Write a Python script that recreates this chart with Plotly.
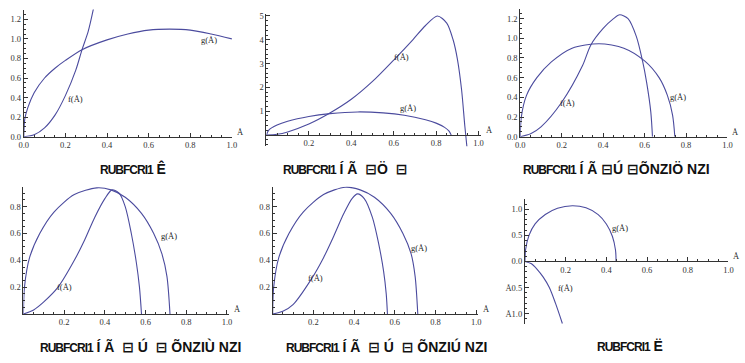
import plotly.graph_objects as go

W, H = 745, 363

# ---------------- data ----------------
# Panel 1
p1_f_x = [0, 0.05, 0.1, 0.15, 0.2, 0.25, 0.28, 0.31, 0.335]
p1_f_y = [0, 0.02, 0.09, 0.22, 0.42, 0.68, 0.89, 1.08, 1.31]
p1_g_x = [0, 0.005, 0.02, 0.05, 0.1, 0.15, 0.2, 0.28, 0.4, 0.5, 0.6, 0.7, 0.8, 0.9, 1.0]
p1_g_y = [0, 0.18, 0.3, 0.45, 0.6, 0.7, 0.78, 0.89, 0.99, 1.05, 1.09, 1.1, 1.09, 1.05, 1.0]
# Panel 2
p2_f_x = [0, 0.05, 0.1, 0.2, 0.293, 0.4, 0.5, 0.6, 0.69, 0.75, 0.806, 0.85, 0.88, 0.9, 0.92, 0.935, 0.945]
p2_f_y = [0, 0.03, 0.13, 0.46, 0.89, 1.5, 2.25, 3.15, 4.0, 4.6, 5.0, 4.7, 4.0, 3.2, 1.9, 0.4, -0.48]
p2_g_x = [0, 0.01, 0.05, 0.1, 0.2, 0.3, 0.43, 0.55, 0.65, 0.75, 0.8, 0.84, 0.86, 0.871]
p2_g_y = [0, 0.2, 0.42, 0.58, 0.78, 0.9, 0.97, 0.93, 0.83, 0.64, 0.5, 0.32, 0.17, 0]
# Panel 3
p3_f_x = [0, 0.05, 0.1, 0.2, 0.3, 0.34, 0.4, 0.45, 0.48, 0.52, 0.56, 0.59, 0.61, 0.63, 0.638]
p3_f_y = [0, 0.03, 0.1, 0.35, 0.72, 0.93, 1.1, 1.2, 1.24, 1.2, 1.02, 0.77, 0.55, 0.25, 0]
p3_g_x = [0, 0.005, 0.03, 0.08, 0.15, 0.25, 0.38, 0.5, 0.6, 0.67, 0.71, 0.735, 0.746]
p3_g_y = [0, 0.2, 0.42, 0.6, 0.76, 0.9, 0.945, 0.9, 0.77, 0.6, 0.42, 0.22, 0]
# Panel 4
p4_f_x = [0, 0.05, 0.1, 0.17, 0.25, 0.3, 0.35, 0.4, 0.435, 0.47, 0.5, 0.53, 0.555, 0.57, 0.58]
p4_f_y = [0, 0.03, 0.09, 0.2, 0.4, 0.55, 0.72, 0.86, 0.925, 0.9, 0.8, 0.6, 0.38, 0.2, 0]
p4_g_x = [0, 0.005, 0.03, 0.08, 0.15, 0.25, 0.36, 0.43, 0.5, 0.58, 0.64, 0.68, 0.705, 0.72]
p4_g_y = [0, 0.2, 0.42, 0.6, 0.76, 0.89, 0.94, 0.925, 0.87, 0.75, 0.6, 0.45, 0.28, 0]
# Panel 5
p5_f_x = [0, 0.05, 0.1, 0.19, 0.25, 0.3, 0.35, 0.39, 0.417, 0.45, 0.49, 0.52, 0.545, 0.558, 0.564]
p5_f_y = [0, 0.02, 0.07, 0.26, 0.42, 0.58, 0.75, 0.86, 0.895, 0.86, 0.72, 0.53, 0.32, 0.15, 0]
p5_g_x = [0, 0.005, 0.03, 0.08, 0.15, 0.25, 0.357, 0.43, 0.5, 0.58, 0.64, 0.68, 0.7, 0.713]
p5_g_y = [0, 0.2, 0.42, 0.6, 0.76, 0.89, 0.945, 0.925, 0.87, 0.75, 0.6, 0.45, 0.28, 0]
# Panel 6
p6_f_x = [0, 0.03, 0.06, 0.09, 0.12, 0.15, 0.184]
p6_f_y = [0, -0.04, -0.15, -0.3, -0.5, -0.8, -1.19]
p6_g_x = [0, 0.003, 0.02, 0.05, 0.1, 0.16, 0.233, 0.3, 0.36, 0.4, 0.43, 0.445, 0.448]
p6_g_y = [0, 0.22, 0.5, 0.72, 0.9, 1.02, 1.07, 1.03, 0.9, 0.72, 0.48, 0.22, 0]

x_ticks_full = [0.0, 0.2, 0.4, 0.6, 0.8, 1.0]
x_text_full = ["0.0", "0.2", "0.4", "0.6", "0.8", "1.0"]
x_ticks_nozero = [0.2, 0.4, 0.6, 0.8, 1.0]
x_text_nozero = ["0.2", "0.4", "0.6", "0.8", "1.0"]
y_ticks_a = [0.0, 0.2, 0.4, 0.6, 0.8, 1.0, 1.2]
y_text_a = ["0.0", "0.2", "0.4", "0.6", "0.8", "1.0", "1.2"]
y_ticks_b = [1, 2, 3, 4, 5]
y_text_b = ["1", "2", "3", "4", "5"]
y_ticks_c = [0.2, 0.4, 0.6, 0.8]
y_text_c = ["0.2", "0.4", "0.6", "0.8"]
y_ticks_d = [-1.0, -0.5, 0.0, 0.5, 1.0]
y_text_d = ["Å1.0", "Å0.5", "0.0", "0.5", "1.0"]

cap_head = "RUBFCRI1"
cap_tails = [
    "Ê",
    "Í Ã  ⊟Ö  ⊟",
    "Í Ã ⊟Ú ⊟ÕNZIÖ NZI",
    "Í Ã  ⊟ Ú  ⊟ ÕNZIÙ NZI",
    "Í Ã  ⊟ Ú  ⊟ ÕNZIÚ NZI",
    "Ë",
]

# ---------------- geometry ----------------
panels = [
    dict(f=(p1_f_x, p1_f_y), g=(p1_g_x, p1_g_y), px0=19, pxu=211, xmax=1.0,
         py0=136.7, pyu=100.0, ymin=0, ymax=1.3,
         xt=x_ticks_full, xtt=x_text_full, yt=y_ticks_a, ytt=y_text_a, ymin_dt=0.05,
         cap=(130, 169), fl=(0.25, 0.39), gl=(0.89, 0.99)),
    dict(f=(p2_f_x, p2_f_y), g=(p2_g_x, p2_g_y), px0=265, pxu=215, xmax=1.01,
         py0=135, pyu=24.35, ymin=-0.48, ymax=5.1,
         xt=x_ticks_nozero, xtt=x_text_nozero, yt=y_ticks_b, ytt=y_text_b, ymin_dt=0.2,
         cap=(345, 169), fl=(0.635, 3.29), gl=(0.666, 1.14)),
    dict(f=(p3_f_x, p3_f_y), g=(p3_g_x, p3_g_y), px0=522.3, pxu=210, xmax=1.0,
         py0=136.7, pyu=100.6, ymin=0, ymax=1.3,
         xt=x_ticks_full, xtt=x_text_full, yt=y_ticks_a, ytt=y_text_a, ymin_dt=0.05,
         cap=(620, 169), fl=(0.226, 0.34), gl=(0.76, 0.40)),
    dict(f=(p4_f_x, p4_f_y), g=(p4_g_x, p4_g_y), px0=18.7, pxu=206.3, xmax=1.01,
         py0=318, pyu=137.2, ymin=0, ymax=0.95,
         xt=x_ticks_nozero, xtt=x_text_nozero, yt=y_ticks_c, ytt=y_text_c, ymin_dt=0.05,
         cap=(137, 351), fl=(0.2, 0.2), gl=(0.713, 0.58)),
    dict(f=(p5_f_x, p5_f_y), g=(p5_g_x, p5_g_y), px0=271.3, pxu=206.3, xmax=1.01,
         py0=318, pyu=137.2, ymin=0, ymax=0.95,
         xt=x_ticks_nozero, xtt=x_text_nozero, yt=y_ticks_c, ytt=y_text_c, ymin_dt=0.05,
         cap=(387, 351), fl=(0.21, 0.27), gl=(0.72, 0.49)),
    dict(f=(p6_f_x, p6_f_y), g=(p6_g_x, p6_g_y), px0=527, pxu=206.3, xmax=1.0,
         py0=264.3, pyu=53.3, ymin=-1.2, ymax=1.2,
         xt=x_ticks_nozero, xtt=x_text_nozero, yt=y_ticks_d, ytt=y_text_d, ymin_dt=0.1,
         cap=(633, 351), fl=(0.2, -0.5), gl=(0.467, 0.64)),
]

LINE = "#4b4b9e"
AX = "#333333"
SERIF = "Liberation Serif, Times New Roman, serif"
TICKFONT = dict(family=SERIF, size=8.5, color="#333333")
LBLFONT = dict(family=SERIF, size=8.5, color="#222222")

fig = go.Figure()
layout = dict(width=W, height=H, margin=dict(l=0, r=0, t=0, b=0),
              paper_bgcolor="white", plot_bgcolor="white", showlegend=False)
annotations = []

for i, p in enumerate(panels, start=1):
    xs = "" if i == 1 else str(i)
    xa, ya = "xaxis" + xs, "yaxis" + xs
    xr, yr = "x" + xs, "y" + xs
    for (cx, cy) in (p["f"], p["g"]):
        fig.add_trace(go.Scatter(x=cx, y=cy, mode="lines", xaxis=xr, yaxis=yr,
                                 line=dict(color=LINE, width=1.1, shape="spline", smoothing=0.8),
                                 hoverinfo="skip"))
    xl = p["px0"] / W
    xh = (p["px0"] + p["pxu"] * p["xmax"]) / W
    ytop_px = p["py0"] - p["pyu"] * p["ymax"]
    ybot_px = p["py0"] - p["pyu"] * p["ymin"]
    yl = 1 - ybot_px / H
    yh = 1 - ytop_px / H
    xaxis = dict(domain=[xl, xh], range=[0, p["xmax"]], showgrid=False, zeroline=False,
                 showline=True, linecolor=AX, linewidth=1,
                 tickmode="array", tickvals=p["xt"], ticktext=p["xtt"],
                 ticks="inside", ticklen=4, tickcolor=AX, tickwidth=1,
                 minor=dict(tickmode="linear", tick0=0, dtick=0.05, ticks="inside",
                            ticklen=2, tickcolor=AX, tickwidth=1, showgrid=False),
                 tickfont=TICKFONT, fixedrange=True)
    if p["ymin"] < 0:
        xaxis.update(anchor="free", position=1 - p["py0"] / H)
    else:
        xaxis.update(anchor=yr)
    yaxis = dict(domain=[yl, yh], range=[p["ymin"], p["ymax"]], anchor=xr,
                 showgrid=False, zeroline=False, showline=True, linecolor=AX, linewidth=1,
                 tickmode="array", tickvals=p["yt"], ticktext=p["ytt"],
                 ticks="inside", ticklen=4, tickcolor=AX, tickwidth=1,
                 minor=dict(tickmode="linear", tick0=0, dtick=p["ymin_dt"], ticks="inside",
                            ticklen=2, tickcolor=AX, tickwidth=1, showgrid=False),
                 tickfont=TICKFONT, fixedrange=True)
    layout[xa] = xaxis
    layout[ya] = yaxis
    annotations.append(dict(x=p["xmax"], y=0, xref=xr, yref=yr, text="Å", showarrow=False,
                            xanchor="left", yanchor="bottom", xshift=3, yshift=-2, font=LBLFONT))
    annotations.append(dict(x=p["fl"][0], y=p["fl"][1], xref=xr, yref=yr, text="f(Å)",
                            showarrow=False, xanchor="center", yanchor="middle", font=LBLFONT))
    annotations.append(dict(x=p["gl"][0], y=p["gl"][1], xref=xr, yref=yr, text="g(Å)",
                            showarrow=False, xanchor="center", yanchor="middle", font=LBLFONT))
    cap_text = ("<b><span style='font-size:12px;letter-spacing:-1px'>" + cap_head +
                "</span> " + cap_tails[i - 1] + "</b>")
    annotations.append(dict(x=p["cap"][0] / W, y=1 - p["cap"][1] / H, xref="paper", yref="paper",
                            text=cap_text, showarrow=False, xanchor="center", yanchor="middle",
                            font=dict(family="Liberation Sans, DejaVu Sans, sans-serif",
                                      size=14, color="#111111")))

layout["annotations"] = annotations
fig.update_layout(**layout)
fig.write_html("out.html")
